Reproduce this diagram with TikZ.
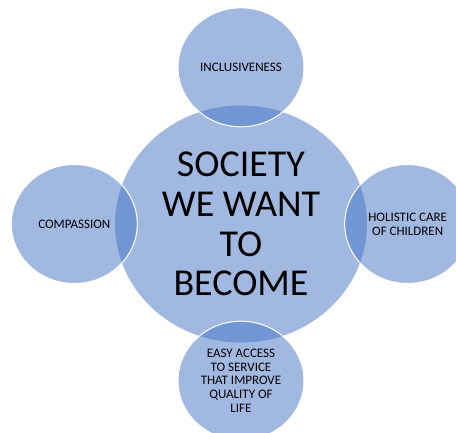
\documentclass[tikz,border=0pt]{standalone}
\usepackage{fontspec}
\setmainfont{Carlito}
\usepackage{tikz}
\usetikzlibrary{positioning, shapes.geometric}
\definecolor{smartblue}{RGB}{68,114,196}

\begin{document}
\begin{tikzpicture}[node distance=-22pt and -23pt, every node/.style={align=center, inner sep=0pt, text opacity=1}]

        % Stile
        \tikzstyle{core}=[ellipse, fill=smartblue, fill opacity=0.5, minimum width=252pt, minimum height=237pt, font=\fontsize{38}{39.7}\selectfont]
        \tikzstyle{aim}=[ellipse, fill=smartblue, fill opacity=0.5, draw=white, line width=1pt, minimum width=126pt, minimum height=119pt, font=\fontsize{13}{13.7}\selectfont]

        % Bildausschnitt
        \clip (-241pt,224pt) rectangle (215pt,-208pt);

        % Mitte
        \node[core] (society) at (0,0) {SOCIETY\\WE WANT\\TO\\BECOME};

        % Ziele rundherum
        \node[aim, above=of society] (inclusion) {INCLUSIVENESS};
        \node[aim, left=of society] (compassion) {COMPASSION};
        \node[aim, right=of society] (care) {HOLISTIC CARE\\OF CHILDREN};
        \node[aim, below=of society] (access) {EASY ACCESS\\TO SERVICE\\THAT IMPROVE\\QUALITY OF\\LIFE};
\end{tikzpicture}
\end{document}
